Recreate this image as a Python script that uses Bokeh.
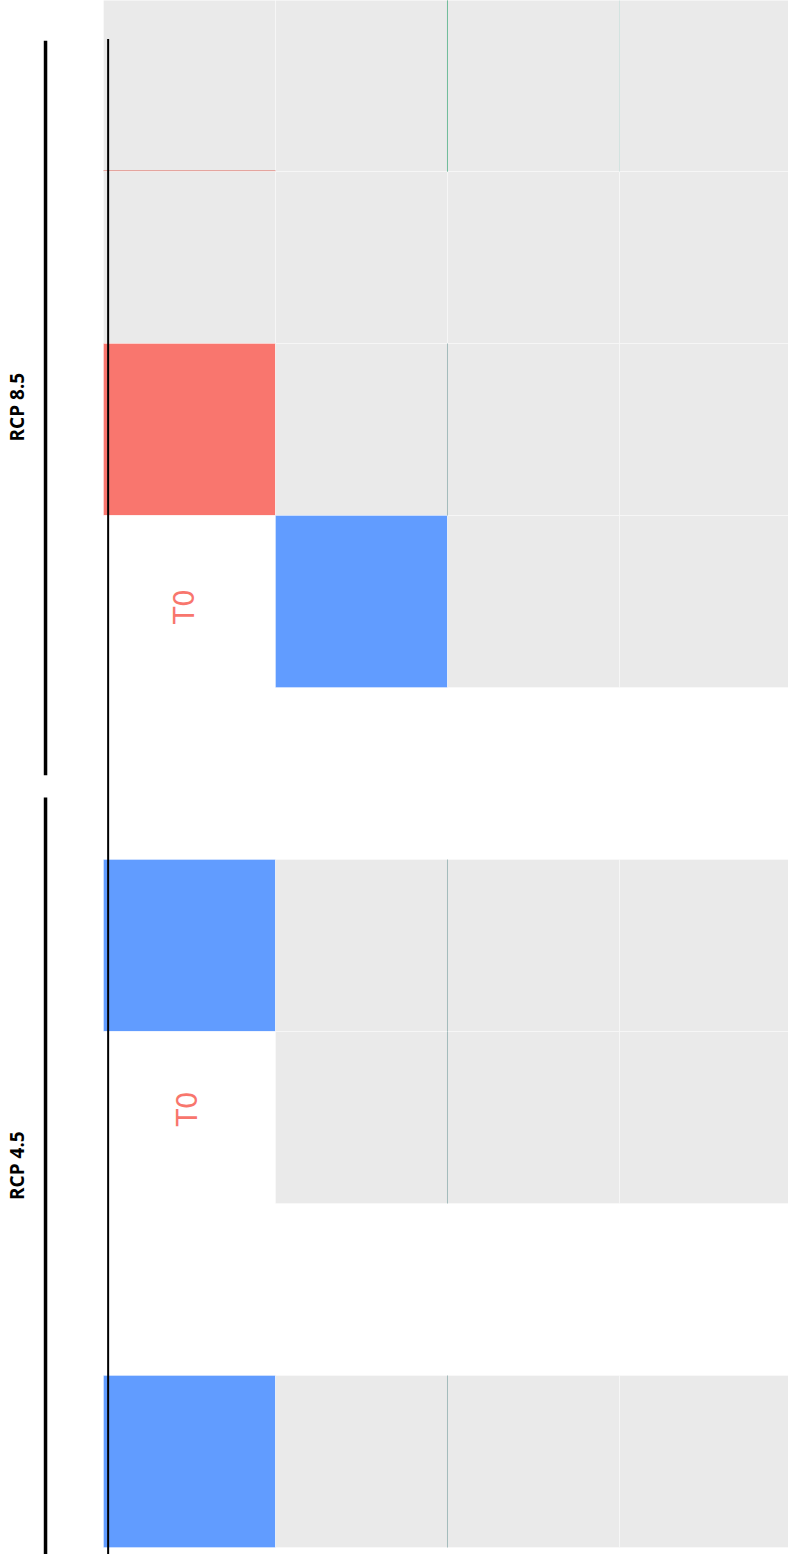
import math
from bokeh.plotting import figure
from bokeh.models import Range1d, ColumnDataSource
from bokeh.core.properties import value
from bokeh.embed import file_html
from bokeh.resources import INLINE

# ---- data -------------------------------------------------------------
columns = [1, 2, 3, 4]
# row index (top to bottom); rows 4 and 7 are empty
tile_rows = [0, 0, 0, 0,
             1, 1, 1, 1,
             2, 2, 2, 2,
             3, 3, 3, 3,
             5, 5, 5, 5,
             6, 6, 6, 6,
             8, 8, 8, 8]
tile_cols = [1, 2, 3, 4] * 7
tile_state = ["na", "na", "na", "na",
              "na", "na", "na", "na",
              "up", "na", "na", "na",
              "t0", "down", "na", "na",
              "down", "na", "na", "na",
              "t0", "na", "na", "na",
              "down", "na", "na", "na"]
state_colors = {"na": "#EAEAEA", "up": "#F9766E", "down": "#619CFF", "t0": "#FFFFFF"}

t0_rows = [3.03, 5.95]
t0_cols = [0.97, 0.99]
t0_labels = ["T0", "T0"]

groups = ["RCP 8.5", "RCP 4.5"]
group_start = [-0.26, 4.14]
group_end = [4.01, 8.6]
group_label_y = [1.87, 6.28]

# ---- figure -----------------------------------------------------------
p = figure(width=788, height=1554, output_backend="svg", toolbar_location=None,
           x_range=Range1d(-0.0988, 4.4826), y_range=Range1d(8.5407, -0.4942),
           min_border=0)
p.axis.visible = False
p.grid.visible = False
p.outline_line_color = None
p.background_fill_color = "white"
p.border_fill_color = "white"

src = ColumnDataSource(dict(x=tile_cols, y=tile_rows,
                            c=[state_colors[s] for s in tile_state]))
p.rect(x="x", y="y", width=1, height=1, source=src, fill_color="c",
       line_color="white", line_width=1, line_alpha=0.35)

# faint tile borders seen between columns 2 and 3
border_rows = [0, 2, 5, 6, 8]
p.segment(x0=[2.5] * len(border_rows), x1=[2.5] * len(border_rows),
          y0=[r - 0.5 for r in border_rows], y1=[r + 0.5 for r in border_rows],
          line_color="#A3BCBC", line_width=1)
p.segment(x0=[2.5], x1=[2.5], y0=[-0.5], y1=[0.5], line_color="#72BE9C", line_width=1)
p.segment(x0=[3.5], x1=[3.5], y0=[-0.5], y1=[0.5], line_color="#D3E3E0", line_width=1)
p.segment(x0=[0.5], x1=[1.5], y0=[0.495], y1=[0.495], line_color="#E39A93", line_width=1)

# T0 labels
p.text(x=t0_cols, y=t0_rows, text=t0_labels, angle=math.pi / 2,
       text_color="#F8766D", text_font=value("DejaVu Sans"),
       text_font_size="28px", text_align="center", text_baseline="middle")

# vertical black rule at left of tiles
p.segment(x0=[0.527], x1=[0.527], y0=[-0.27], y1=[8.6], line_color="black", line_width=2)

# group brackets and labels
p.segment(x0=[0.163] * 2, x1=[0.163] * 2, y0=group_start, y1=group_end,
          line_color="black", line_width=3.5)
p.text(x=[0.0] * 2, y=group_label_y,
       text=groups, angle=math.pi / 2, text_color="black",
       text_font=value("Open Sans"), text_font_style="bold", text_font_size="19px",
       text_align="center", text_baseline="middle")

open("out.html", "w").write(file_html(p, INLINE))
